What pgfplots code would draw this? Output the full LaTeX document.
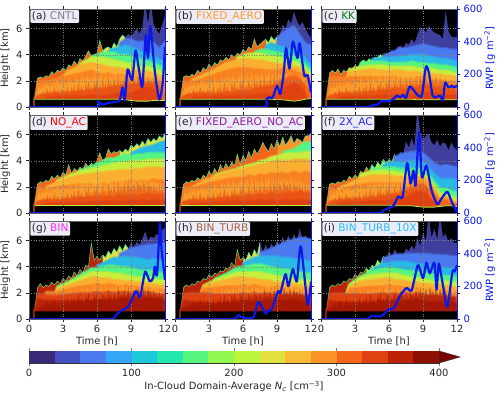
\documentclass[border=0pt]{standalone}
\usepackage{fontspec}
\setmainfont{DejaVu Sans}
\usepackage{pgfplots}
\usepackage{pgfplotstable}
\pgfplotsset{compat=1.18}
\newcommand\fnt{\fontsize{10}{10.5}\selectfont}
\definecolor{k0}{HTML}{3A2A78}\definecolor{k1}{HTML}{4350C0}\definecolor{k2}{HTML}{4A7AF0}\definecolor{k3}{HTML}{35A5F5}
\definecolor{k4}{HTML}{1FC8D8}\definecolor{k5}{HTML}{25E8B0}\definecolor{k6}{HTML}{55F57F}\definecolor{k7}{HTML}{90F84F}
\definecolor{k8}{HTML}{B9F53A}\definecolor{k9}{HTML}{E0E040}\definecolor{k10}{HTML}{F8BB35}\definecolor{k11}{HTML}{FE9428}
\definecolor{k12}{HTML}{F4651A}\definecolor{k13}{HTML}{DF4210}\definecolor{k14}{HTML}{BB2208}\definecolor{k15}{HTML}{901000}
\definecolor{k16}{HTML}{7A0403}\definecolor{rwp}{HTML}{0A18E8}\definecolor{txt}{HTML}{262626}\definecolor{box}{HTML}{ECECF8}
\definecolor{purp}{HTML}{3F3F9E}
\pgfplotstableread{
S D
.6 .6
.7 .8
.9 1.2
.8 1.6
1.0 1.3
.9 1.7
1.2 1.4
.9 1.8
1.1 1.5
1.4 1.9
1.0 1.6
1.3 1.5
.9 1.9
1.2 1.6
1.5 2.0
1.0 1.7
1.3 2.1
1.1 1.6
.9 1.9
1.4 1.7
1.1 2.2
1.3 1.8
1.0 2.0
1.6 1.7
1.2 2.3
1.0 1.8
1.5 2.1
1.2 1.9
1.7 1.7
1.1 2.4
1.4 1.9
1.9 2.2
1.2 1.8
1.6 2.5
1.3 2.0
1.1 2.3
1.8 1.9
1.4 2.6
2.0 2.0
1.3 2.3
1.6 1.9
1.2 2.5
1.9 2.1
1.5 2.7
2.1 2.0
1.3 2.4
1.7 2.1
1.4 2.6
2.0 2.2
1.5 1.9
1.8 2.7
1.3 2.3
2.2 2.0
1.6 2.6
1.9 2.2
1.4 2.5
2.1 2.0
1.7 2.7
1.5 2.3
2.3 2.1
1.6 2.6
2.0 2.2
1.5 2.8
2.2 2.3
1.8 2.0
1.6 2.6
2.4 2.2
1.7 2.5
2.1 2.1
1.6 2.7
2.3 2.3
1.9 2.6
1.7 2.1
2.5 2.8
1.8 2.3
2.2 2.6
1.7 2.2
2.4 2.7
1.9 2.3
1.6 2.6
2.3 2.1
1.8 2.5
2.1 2.2
1.6 2.6
2.2 2.2
1.7 2.5
2.0 2.1
1.5 2.4
2.1 2.0
1.6 2.3
1.9 2.0
1.5 2.2
}\streak
\pgfplotstableread{
t B C G Y L O R D Z
.5 0 0 0 0 0 .6 .6 0 .6
.8 0 0 0 0 0 2.0 .9 0 .6
1.5 0 0 0 0 0 2.0 1.0 .7 .6
2.5 0 0 0 0 2.0 2.2 1.1 .8 .6
3.5 0 0 0 0 2.8 2.4 1.1 .8 .6
4.5 0 0 0 3.3 3.2 2.6 1.2 .8 .6
5.5 0 0 3.9 3.8 3.4 2.8 1.3 .9 .6
6 0 0 4.0 3.8 3.3 2.6 1.4 .9 .6
6.5 0 0 4.2 3.8 3.2 2.5 1.3 .8 .6
7 0 4.3 4.2 3.7 3.1 2.6 1.5 .9 .6
7.5 0 4.5 4.2 3.6 3.0 2.4 1.6 1.0 .6
8 4.9 4.6 4.0 3.5 3.0 2.5 1.6 1.1 .6
8.5 5.2 4.7 4.0 3.4 2.9 2.4 1.8 1.0 .55
9 5.2 4.6 3.9 3.3 2.8 2.3 1.7 1.1 .5
9.5 5.0 4.4 3.8 3.2 2.8 2.3 1.8 1.2 .45
10 5.0 4.2 3.6 3.1 2.7 2.3 1.9 1.4 .45
10.5 5.1 4.1 3.5 3.1 2.7 2.2 1.8 1.5 .45
11 4.9 4.0 3.4 3.0 2.6 2.2 1.9 1.3 .5
11.5 4.5 3.6 3.2 2.8 2.4 2.0 1.5 .9 .5
12 5.0 3.6 3.0 2.6 2.2 1.7 1.0 0 .5
}\ba
\pgfplotstableread[header=false]{
.6
2.2
2.3
2.2
2.4
2.3
2.7
2.5
2.8
2.7
3.0
2.8
3.2
3.1
3.5
3.2
3.7
3.5
3.9
4.3
3.9
4.0
4.1
5.1
4.3
4.5
4.6
4.4
4.9
4.6
5.2
5.5
5.3
5.6
5.4
5.7
6.0
5.6
6.1
8
6.4
8
6.3
5.9
5.6
6.3
7.0
}\ta
\pgfplotstableread{
t B C G Y L O R D Z
.5 0 0 0 0 0 .6 .6 0 .6
.8 0 0 0 0 0 2.0 .9 0 .6
1.5 0 0 0 0 2.1 1.9 1.0 .7 .6
2.5 0 0 0 0 2.5 2.2 1.1 .8 .6
3.5 0 0 0 0 2.9 2.5 1.0 .8 .6
4.5 0 0 0 0 3.4 2.8 1.1 .8 .6
5.5 0 0 0 3.8 3.6 3.0 1.2 .9 .6
6 0 0 0 4.0 3.7 3.0 1.3 .9 .6
6.5 0 0 0 4.1 3.7 3.0 1.2 .9 .6
7 0 0 4.2 4.1 3.6 2.9 1.4 .9 .6
7.5 0 0 4.4 4.1 3.6 2.9 1.5 1.0 .6
8 0 4.7 4.4 4.0 3.5 2.8 1.5 1.0 .6
8.5 0 4.9 4.3 3.9 3.4 2.8 1.6 .9 .6
9 5.2 4.7 4.2 3.9 3.3 2.8 1.8 1.0 .55
9.5 5.7 4.6 4.1 3.7 3.3 2.9 2.0 1.2 .55
10 6.0 4.4 3.9 3.5 3.1 2.9 2.3 1.6 .5
10.5 6.2 4.5 3.9 3.5 3.1 2.8 2.4 1.8 .45
11 5.5 4.2 3.7 3.3 3.0 2.6 2.2 1.6 .5
11.5 4.9 3.7 3.3 3.0 2.7 2.3 1.6 1.0 .6
12 4.7 3.2 2.8 2.5 2.2 1.8 1.2 0 .65
}\bb
\pgfplotstableread[header=false]{
.6
2.3
2.4
2.3
2.5
2.4
2.8
2.6
3.0
2.8
3.3
3.0
3.4
3.2
3.6
3.5
3.8
3.6
4.0
3.8
4.1
4.0
4.4
4.2
4.6
4.4
5.2
4.6
4.8
5.0
5.2
4.9
5.4
5.1
5.4
5.6
6.3
6.0
6.7
6.4
7.3
6.6
6.2
6.5
6.0
5.6
5.3
}\tb
\pgfplotstableread{
t B C G Y L O R D Z
.5 0 0 0 0 0 .6 .6 0 .6
.8 0 0 0 0 0 2.3 .9 0 .6
1.5 0 0 0 0 0 2.3 1.0 .7 .6
2.5 0 0 0 2.9 2.7 2.3 1.1 .8 .6
3.5 0 0 3.4 3.1 2.8 2.3 1.1 .8 .6
4.5 0 3.7 3.5 3.2 2.9 2.3 1.2 .8 .6
5.5 4.0 3.8 3.5 3.2 2.8 2.3 1.3 .9 .6
6 4.1 3.8 3.4 3.1 2.8 2.3 1.3 .9 .6
6.5 4.3 3.8 3.4 3.1 2.8 2.3 1.4 .9 .6
7 4.5 3.9 3.4 3.1 2.8 2.2 1.4 .9 .6
7.5 4.5 3.9 3.4 3.1 2.7 2.2 1.3 .9 .6
8 4.6 4.0 3.5 3.1 2.7 2.2 1.5 .9 .6
8.5 4.7 4.0 3.4 3.0 2.7 2.3 1.5 1.0 .55
9 4.8 4.0 3.4 3.0 2.6 2.3 1.7 1.1 .55
9.5 4.7 3.9 3.3 3.0 2.6 2.2 1.6 1.1 .55
10 4.6 3.8 3.3 2.9 2.5 2.1 1.5 1.0 .55
10.5 4.5 3.7 3.2 2.8 2.5 2.1 1.5 1.0 .55
11 4.5 3.7 3.2 2.8 2.4 2.0 1.4 .9 .55
11.5 4.4 3.6 3.1 2.7 2.4 2.0 1.3 .9 .55
12 4.4 3.5 3.0 2.6 2.3 1.9 1.3 .9 .55
}\bc
\pgfplotstableread[header=false]{
.6
2.6
2.8
2.6
2.9
2.5
2.8
2.7
3.0
2.8
3.2
3.0
3.4
3.6
3.4
3.7
3.5
3.8
3.8
4.0
3.9
4.1
4.1
4.4
4.2
4.6
4.7
4.5
4.9
4.8
5.2
4.9
5.5
6.1
6.0
5.7
6.2
5.9
5.7
5.6
5.5
5.2
7.4
5.8
5.4
5.3
5.4
}\tc
\pgfplotstableread{
t B C G Y L O R D Z
.5 0 0 0 0 0 .6 .6 0 .6
.8 0 0 0 0 0 2.0 .9 0 .6
1.5 0 0 0 0 2.0 1.8 1.0 .7 .6
2.5 0 0 0 2.5 2.4 2.0 1.0 .75 .6
3.5 0 0 0 2.9 2.7 2.1 1.1 .8 .6
4.5 0 0 3.3 3.2 2.9 2.2 1.2 .8 .6
5.5 0 0 3.6 3.4 3.0 2.2 1.2 .8 .6
6 0 0 3.8 3.5 3.1 2.1 1.3 .9 .6
6.5 0 0 4.0 3.6 3.1 2.3 1.2 .85 .6
7 0 0 4.2 3.7 3.2 2.2 1.3 .9 .6
7.5 0 0 4.2 3.8 3.2 2.4 1.2 .85 .6
8 0 0 4.4 3.9 3.3 2.3 1.4 .9 .6
8.5 0 0 4.5 3.9 3.3 2.4 1.3 .85 .6
9 0 4.6 4.4 4.0 3.3 2.5 1.4 1.0 .6
9.5 0 4.8 4.5 4.0 3.4 2.4 1.3 .9 .6
10 0 5.0 4.5 4.0 3.4 2.5 1.4 1.0 .6
10.5 0 5.1 4.6 4.1 3.5 2.4 1.5 .9 .6
11 0 5.2 4.6 4.1 3.5 2.6 1.4 1.0 .6
11.5 0 5.4 4.6 4.1 3.5 2.5 1.4 .9 .6
12 0 5.5 4.6 4.1 3.4 2.5 1.5 1.0 .6
}\bd
\pgfplotstableread[header=false]{
.6
2.2
2.4
2.3
2.5
2.4
2.8
2.6
2.9
2.7
3.1
2.9
3.7
3.0
3.4
3.2
3.5
3.3
3.8
3.5
3.8
3.6
4.0
4.6
4.0
4.2
4.9
4.5
4.7
4.6
4.8
4.6
4.9
4.7
5.2
5.0
5.3
5.1
5.5
5.2
5.7
5.4
5.7
5.5
5.9
5.7
6.1
}\td
\pgfplotstableread{
t B C G Y L O R D Z
.5 0 0 0 0 0 .6 .6 0 .6
.8 0 0 0 0 0 2.0 .9 0 .6
1.5 0 0 0 0 2.0 1.9 1.0 .7 .6
2.5 0 0 0 0 2.5 2.2 1.0 .75 .6
3.5 0 0 0 2.9 2.8 2.4 1.1 .8 .6
4.5 0 0 0 3.2 3.1 2.6 1.2 .85 .6
5.5 0 0 3.5 3.4 3.3 2.7 1.3 .9 .6
6 0 0 0 3.6 3.4 2.7 1.2 .85 .6
6.5 0 0 0 3.7 3.5 2.9 1.4 .9 .6
7 0 0 0 3.8 3.6 2.8 1.3 .9 .6
7.5 0 0 0 4.0 3.7 3.0 1.5 1.0 .6
8 0 0 0 4.1 3.8 2.9 1.3 .9 .6
8.5 0 0 0 4.3 3.9 3.1 1.6 1.0 .6
9 0 0 0 4.4 4.0 3.0 1.4 .9 .6
9.5 0 0 4.7 4.5 4.0 3.1 1.5 1.0 .6
10 0 0 4.8 4.6 4.0 3.0 1.6 1.0 .6
10.5 0 0 4.9 4.6 4.1 3.2 1.5 .9 .6
11 0 0 5.2 4.6 4.1 3.0 1.7 1.0 .6
11.5 0 0 5.4 4.7 4.1 3.2 1.5 .9 .6
12 0 0 5.4 4.7 4.0 3.0 1.6 1.0 .6
}\be
\pgfplotstableread[header=false]{
.6
2.2
2.4
2.3
2.5
2.4
2.7
2.5
2.9
2.7
3.2
2.9
3.4
3.0
3.7
3.3
3.8
3.4
3.9
3.6
4.5
3.7
4.4
4.0
4.7
4.2
4.9
4.5
4.9
5.4
5.0
4.7
5.3
4.9
5.6
5.1
5.8
5.2
5.5
5.9
5.3
5.7
5.6
5.4
5.9
5.9
6.1
}\te
\pgfplotstableread{
t B C G Y L O R D Z
.5 0 0 0 0 0 .6 .6 0 .6
.8 0 0 0 0 0 1.9 .9 0 .6
1.5 0 0 0 0 1.9 1.7 1.0 .7 .6
2.5 0 0 0 0 2.3 2.0 1.1 .8 .6
3.5 0 0 0 3.0 2.7 2.2 1.1 .8 .6
4.5 0 0 3.4 3.2 2.9 2.3 1.2 .9 .6
5.5 0 3.7 3.5 3.3 2.9 2.3 1.3 .9 .6
6 0 3.9 3.5 3.2 2.9 2.3 1.4 1.0 .6
6.5 4.3 3.9 3.5 3.2 2.8 2.3 1.4 1.0 .55
7 4.5 3.9 3.4 3.1 2.8 2.3 1.5 1.1 .55
7.5 4.6 3.9 3.4 3.0 2.7 2.2 1.7 1.2 .55
8 4.7 4.0 3.4 3.0 2.7 2.4 2.0 1.4 .55
8.5 4.7 4.0 3.4 3.0 2.8 2.5 2.2 1.6 .5
9 4.6 3.9 3.4 3.0 2.8 2.5 2.2 1.6 .45
9.5 4.2 3.5 3.0 2.7 2.5 2.2 1.8 1.2 .45
10 3.8 3.0 2.4 2.1 1.9 1.6 1.3 .8 .45
10.5 3.6 2.6 1.9 1.5 1.2 1.0 .85 0 .5
11 3.7 2.6 1.9 1.5 1.3 1.1 .9 0 .55
11.5 3.6 2.6 1.7 1.3 1.0 .85 .7 0 .55
12 3.5 2.5 1.6 1.1 .9 .75 .65 0 .5
}\bff
\pgfplotstableread[header=false]{
.6
2.2
2.3
2.2
2.4
2.3
2.5
2.4
2.8
2.6
2.9
2.7
3.2
3.0
3.5
3.2
3.7
3.4
3.9
3.6
4.1
3.8
4.1
3.9
4.5
4.2
4.7
4.5
5.5
5.0
5.7
5.1
8
6.2
5.6
5.9
6.1
5.4
5.2
5.6
5.1
5.4
5.3
4.8
5.4
5.0
4.8
}\tff
\pgfplotstableread{
t B C G Y L O R D Z
.5 0 0 0 0 0 .6 .6 .6 .6
.8 0 0 0 0 0 0 1.9 1.5 .6
1.5 0 0 0 0 0 2.1 1.8 1.4 .6
2.5 0 0 2.5 2.4 2.3 2.1 1.8 1.4 .6
3.5 0 0 2.9 2.8 2.6 2.3 1.9 1.4 .6
4.5 0 0 3.4 3.2 2.9 2.5 2.0 1.4 .6
5.5 0 0 3.9 3.6 3.2 2.6 2.0 1.4 .6
6 0 4.1 3.9 3.6 3.2 2.7 2.1 1.5 .6
6.5 0 4.3 4.0 3.6 3.1 2.6 2.0 1.4 .6
7 0 4.5 4.1 3.6 3.1 2.7 2.1 1.5 .6
7.5 0 4.7 4.1 3.5 3.0 2.6 2.0 1.4 .6
8 5.0 4.7 4.0 3.5 3.0 2.5 2.1 1.5 .6
8.5 5.2 4.8 4.0 3.4 2.9 2.6 2.1 1.6 .6
9 5.4 4.7 3.9 3.3 2.9 2.5 2.0 1.5 .6
9.5 5.5 4.7 3.8 3.2 2.8 2.5 2.1 1.6 .6
10 5.6 4.6 3.7 3.2 2.8 2.4 2.0 1.5 .6
10.5 5.7 4.5 3.7 3.1 2.7 2.4 2.1 1.6 .6
11 5.7 4.6 3.7 3.1 2.7 2.3 2.0 1.5 .6
11.5 5.8 4.5 3.6 3.0 2.6 2.3 1.9 1.5 .6
12 5.8 4.4 3.5 3.0 2.6 2.2 1.9 1.4 .6
}\bg
\pgfplotstableread[header=false]{
.6
2.4
2.7
2.4
2.6
2.5
2.8
2.6
2.9
2.7
3.1
2.9
3.3
3.1
3.6
3.3
3.8
3.5
4.1
4.0
5.8
4.5
4.8
4.5
4.9
4.7
5.2
4.9
5.4
5.1
5.6
5.2
5.7
5.4
5.8
5.5
5.9
5.7
6.1
6.7
6.0
6.3
6.2
6.5
6.3
6.8
7.0
}\tg
\pgfplotstableread{
t B C G Y L O R D Z
.5 0 0 0 0 0 .6 .6 .6 .6
.8 0 0 0 0 0 0 1.9 1.4 .6
1.5 0 0 0 0 0 0 2.0 1.3 .6
2.5 0 0 0 2.6 2.5 2.3 2.0 1.3 .6
3.5 0 0 3.1 3.0 2.8 2.4 1.9 1.2 .6
4.5 0 0 3.5 3.3 3.0 2.5 1.9 1.3 .6
5.5 0 0 4.0 3.6 3.2 2.5 1.9 1.3 .6
6 0 4.3 4.0 3.6 3.2 2.6 2.0 1.4 .6
6.5 0 4.5 4.1 3.6 3.1 2.5 1.9 1.3 .6
7 0 4.7 4.2 3.6 3.1 2.6 2.0 1.4 .6
7.5 5.1 4.8 4.2 3.6 3.0 2.5 1.9 1.3 .6
8 5.2 4.8 4.1 3.5 3.0 2.4 2.0 1.4 .6
8.5 5.4 4.8 4.0 3.4 2.9 2.4 1.9 1.4 .6
9 5.6 4.8 3.9 3.3 2.8 2.5 2.0 1.5 .6
9.5 5.8 4.7 3.8 3.2 2.8 2.4 1.9 1.4 .6
10 6.0 4.7 3.8 3.1 2.7 2.3 1.9 1.4 .6
10.5 6.1 4.6 3.7 3.1 2.7 2.4 2.0 1.5 .6
11 6.2 4.6 3.6 3.0 2.6 2.3 1.9 1.4 .6
11.5 6.2 4.5 3.5 3.0 2.5 2.2 1.8 1.3 .6
12 6.1 4.4 3.5 2.9 2.5 2.2 1.8 1.2 .6
}\bh
\pgfplotstableread[header=false]{
.6
2.4
2.6
2.5
2.7
2.6
2.9
2.8
3.1
3.0
3.4
3.2
3.5
3.4
3.7
3.6
3.9
3.8
4.3
4.0
5.3
4.5
4.7
4.5
5.1
4.7
5.3
4.9
5.9
5.1
5.7
5.2
5.8
5.4
6.0
5.5
6.3
5.7
6.4
5.9
6.5
6.0
6.9
6.2
6.4
6.0
6.2
}\tth
\pgfplotstableread{
t B C G Y L O R D Z
.5 0 0 0 0 0 .6 .6 .6 .6
.8 0 0 0 0 0 0 1.9 1.4 .6
1.5 0 0 0 0 0 0 2.0 1.3 .6
2.5 0 0 2.7 2.6 2.5 2.3 1.9 1.3 .6
3.5 0 0 3.3 3.2 2.9 2.4 1.9 1.3 .6
4.5 0 3.8 3.7 3.4 3.0 2.5 1.9 1.3 .6
5.5 4.7 4.3 3.9 3.5 3.1 2.5 2.0 1.4 .6
6 4.8 4.3 3.9 3.5 3.1 2.6 1.9 1.3 .6
6.5 4.9 4.4 3.9 3.5 3.0 2.5 2.0 1.4 .6
7 4.9 4.4 3.8 3.4 3.0 2.5 1.9 1.3 .6
7.5 5.0 4.4 3.7 3.3 2.9 2.4 2.0 1.4 .6
8 5.0 4.3 3.7 3.2 2.8 2.4 1.9 1.4 .6
8.5 5.0 4.2 3.6 3.1 2.8 2.4 2.0 1.5 .6
9 5.0 4.2 3.6 3.1 2.7 2.3 1.9 1.4 .6
9.5 5.0 4.1 3.5 3.0 2.7 2.3 1.8 1.3 .6
10 4.9 4.0 3.4 2.9 2.6 2.2 1.8 1.3 .6
10.5 4.9 4.0 3.4 2.9 2.6 2.2 1.8 1.3 .6
11 4.9 3.9 3.3 2.9 2.5 2.2 1.7 1.2 .6
11.5 4.8 3.9 3.3 2.8 2.5 2.1 1.7 1.3 .6
12 4.8 3.8 3.2 2.8 2.4 2.1 1.7 1.2 .6
}\bi
\pgfplotstableread[header=false]{
.6
2.4
2.6
2.5
2.7
2.6
2.9
2.8
3.1
3.0
3.4
3.2
3.6
3.5
3.9
3.7
4.1
4.0
4.5
4.2
4.8
4.6
5.2
4.8
5.3
5.0
5.1
4.9
5.4
5.2
5.6
5.3
6.2
5.6
6.6
5.9
8.0
6.2
6.9
6.1
8.0
6.3
6.5
5.9
6.2
5.8
5.8
}\ti
\pgfplotsset{
  common/.style={scale only axis,width=136bp,height=98bp,anchor=south west,xmin=0,xmax=12,
    tick label style={font=\fnt,text=txt},label style={font=\fnt,text=txt},
    /pgf/number format/assume math mode=true},
}
\newcommand\lay[3]{\addplot[fill=#3,draw=#3,draw opacity=.5,line width=2.6bp,line join=round] table[x=t,y=#2]{#1}\closedcycle;}
\newcommand\seg[4]{\addplot[fill=#4,draw=none,restrict x to domain=#2:#3] table[x expr=\coordindex*0.25+0.5,y index=0]{#1}\closedcycle;}
\newcommand\tipl[4]{\addplot[draw=#4,line width=.45bp,restrict x to domain=#2:#3] table[x expr=\coordindex*0.25+0.5,y index=0]{#1};}
\newcommand\stk[3]{\addplot[fill=#2,fill opacity=#3,draw=none,restrict x to domain=0.5:\se] table[x expr=\coordindex*0.125+0.5,y=#1]{\streak}\closedcycle;}
\def\se{12}
% #1 x  #2 y  #3 bands  #4 top  #5 t1  #6 t2  #7 mid colour  #8 rwp  #9 label
\newcommand\panel[9]{%
\ifnum#1=29 \pgfplotsset{yl/.style={ylabel={Height [km]},ylabel style={yshift=-1bp}}}\else\pgfplotsset{yl/.style={yticklabel=\empty}}\fi
\ifnum#2=78 \pgfplotsset{xl/.style={xlabel={Time [h]},xlabel style={yshift=3bp}}}\colorlet{segA}{k14}\colorlet{dk}{k14}\colorlet{rd}{k13}\colorlet{bl}{black!60!k15}\colorlet{sd}{k15}%
\else \pgfplotsset{xl/.style={xticklabel=\empty}}\colorlet{segA}{k12}\colorlet{dk}{k13}\colorlet{rd}{k12}\colorlet{bl}{k8}\colorlet{sd}{k13}\fi
\ifnum#1=321 \pgfplotsset{rs/.style={ylabel={RWP [g m\textsuperscript{−2}]},yticklabel style={font=\fnt,text=rwp},ylabel style={font=\fnt,text=rwp,yshift=5bp}}}\else\pgfplotsset{rs/.style={yticklabel=\empty}}\fi
\begin{axis}[common,at={(#1bp,#2bp)},ymin=0,ymax=7.5,xtick={0,3,6,9,12},ytick={0,2,4,6},
  tick align=outside,major tick length=3bp,tick style={txt,line width=.5bp},
  axis line style={black!60,line width=.6bp},axis on top,grid=major,
  grid style={dotted,white!50!black,line width=.4bp},
  axis background/.style={fill=black},yl,xl]
\seg{#4}{0.5}{#5}{segA}
\seg{#4}{#5}{#6}{#7}
\seg{#4}{#6}{12}{purp}
\tipl{#4}{0.5}{#5}{k6}
\tipl{#4}{#5}{#6}{k5}
\lay{#3}{B}{k2}
\lay{#3}{C}{k3!40!k4}
\lay{#3}{G}{k6}
\lay{#3}{Y}{k8!60!k9}
\lay{#3}{L}{k10!70!k11}
\lay{#3}{O}{k11!60!k12}
\stk{D}{k10}{.45}
\lay{#3}{R}{rd}
\lay{#3}{D}{dk}
\stk{S}{sd}{.5}
\addplot[fill=black,draw=none] table[x=t,y=Z]{#3}\closedcycle;
\addplot[draw=bl,line width=.8bp] table[x=t,y=Z]{#3};
\end{axis}
\begin{axis}[common,at={(#1bp,#2bp)},ymin=0,ymax=600,axis y line*=right,axis x line=none,ytick={0,200,400,600},
  tick align=outside,major tick length=3bp,tick style={rwp,line width=.5bp},
  y axis line style={rwp,line width=.8bp},rs,clip=true]
\addplot[rwp,line width=2.2bp,smooth,tension=.4,line join=round] coordinates {#8};
\node[anchor=north west,fill=box,rounded corners=1bp,inner sep=1.6bp,font=\fontsize{10.6}{11}\selectfont,text=txt] at (rel axis cs:0.008,0.99) {#9};
\end{axis}}
\newcommand\cb[3]{\addplot[fill=#3,draw=none] coordinates {(#1,1)(#2,1)}\closedcycle;}
\begin{document}
\begin{tikzpicture}
\path[use as bounding box] (0,0) rectangle (500bp,397bp);
\def\se{11.5}
\panel{29}{290}{\ba}{\ta}{6.5}{8.5}{k9}{(0,0)(5.85,0)(6.1,35)(6.5,15)(7,25)(7.5,30)(8,40)(8.25,120)(8.45,40)(8.7,230)(9.1,165)(9.4,345)(9.7,230)(10,125)(10.3,440)(10.5,300)(10.7,495)(11.1,220)(11.5,45)(11.8,150)(12,370)}{(a) \textcolor{gray}{CNTL}}
\panel{175}{290}{\bb}{\tb}{8}{9}{k9}{(0,0)(7.7,0)(8,40)(8.3,60)(8.6,55)(9,130)(9.3,80)(9.6,215)(9.8,360)(10.1,235)(10.4,400)(10.8,300)(11,390)(11.4,195)(11.7,195)(12,90)}{(b) \textcolor[HTML]{FF9A2E}{FIXED\_AERO}}
\def\se{12}
\panel{321}{290}{\bc}{\tc}{3.5}{5.5}{k8}{(0,0)(4,0)(4.5,10)(5,15)(5.3,35)(6,35)(6.4,50)(6.7,70)(7,60)(7.25,75)(7.5,55)(7.8,125)(8.15,105)(8.5,75)(8.9,70)(9.25,245)(9.5,215)(9.85,70)(10.15,60)(10.5,70)(10.75,40)(10.95,150)(11.25,120)(11.55,130)(11.7,120)(12,130)}{(c) \textcolor[HTML]{0A7A0A}{KK}}
\panel{29}{184}{\bd}{\td}{8}{12}{k9}{(0,0)(12,0)}{(d) \textcolor{red}{NO\_AC}}
\panel{175}{184}{\be}{\te}{9}{12}{k11}{(0,0)(12,0)}{(e) \textcolor[HTML]{8E1A98}{FIXED\_AERO\_NO\_AC}}
\def\se{9.5}
\panel{321}{184}{\bff}{\tff}{4.25}{6.5}{k8}{(0,0)(5,0)(5.5,15)(5.95,30)(6.4,45)(6.8,100)(7.2,100)(7.6,305)(7.9,180)(8.15,260)(8.35,170)(8.65,495)(8.9,220)(9.3,290)(9.75,140)(10.15,65)(10.35,55)(10.65,90)(11.15,130)(11.55,65)(12,5)}{(f) \textcolor[HTML]{2A2AEE}{2X\_AC}}
\def\se{12}
\panel{29}{78}{\bg}{\tg}{6.5}{8.75}{k9}{(0,0)(7,0)(7.55,15)(8,45)(8.75,75)(9.1,125)(9.45,170)(9.8,135)(10.25,290)(10.65,230)(10.95,250)(11.1,320)(11.3,270)(11.55,585)(11.7,425)(12,240)}{(g) \textcolor[HTML]{FF2EF0}{BIN}}
\panel{175}{78}{\bh}{\tth}{6}{7.5}{k9}{(0,0)(5,0)(5.6,25)(5.9,10)(6.9,10)(7.35,105)(7.95,35)(8.25,55)(8.5,55)(9.1,170)(9.3,160)(9.75,275)(10,200)(10.4,305)(10.75,230)(11.1,445)(11.7,90)(12,230)}{(h) \textcolor[HTML]{A8643C}{BIN\_TURB}}
\panel{321}{78}{\bi}{\ti}{4}{5.5}{k8}{(0,0)(3.9,0)(4.45,18)(5.35,18)(5.95,60)(6.4,65)(7,145)(7.55,190)(8,175)(8.55,330)(9,250)(9.3,345)(9.6,280)(10,345)(10.2,180)(10.4,340)(10.8,190)(11.15,75)(11.6,290)(11.8,290)(12,330)}{(i) \textcolor[HTML]{22C0FF}{BIN\_TURB\_10X}}
\begin{axis}[scale only axis,width=410bp,height=12bp,anchor=south west,at={(29bp,34bp)},xmin=0,xmax=400,ymin=0,ymax=1,
  xtick={0,100,200,300,400},ytick=\empty,clip=false,tick align=outside,major tick length=3bp,
  tick label style={font=\fnt,text=txt},label style={font=\fnt,text=txt},axis line style={black!80,line width=.5bp},
  /pgf/number format/assume math mode=true,
  xlabel={In-Cloud Domain-Average \textit{N}\textsubscript{\textit{c}} [cm\textsuperscript{−3}]},xlabel style={yshift=3bp}]
\cb{0}{25}{k0}\cb{25}{50}{k1}\cb{50}{75}{k2}\cb{75}{100}{k3}
\cb{100}{125}{k4}\cb{125}{150}{k5}\cb{150}{175}{k6}\cb{175}{200}{k7}
\cb{200}{225}{k8}\cb{225}{250}{k9}\cb{250}{275}{k10}\cb{275}{300}{k11}
\cb{300}{325}{k12}\cb{325}{350}{k13}\cb{350}{375}{k14}\cb{375}{400}{k15}
\addplot[fill=k16,draw=black!80,line width=.5bp] coordinates {(400,0)(420.5,0.5)(400,1)} --cycle;
\end{axis}
\end{tikzpicture}
\end{document}
